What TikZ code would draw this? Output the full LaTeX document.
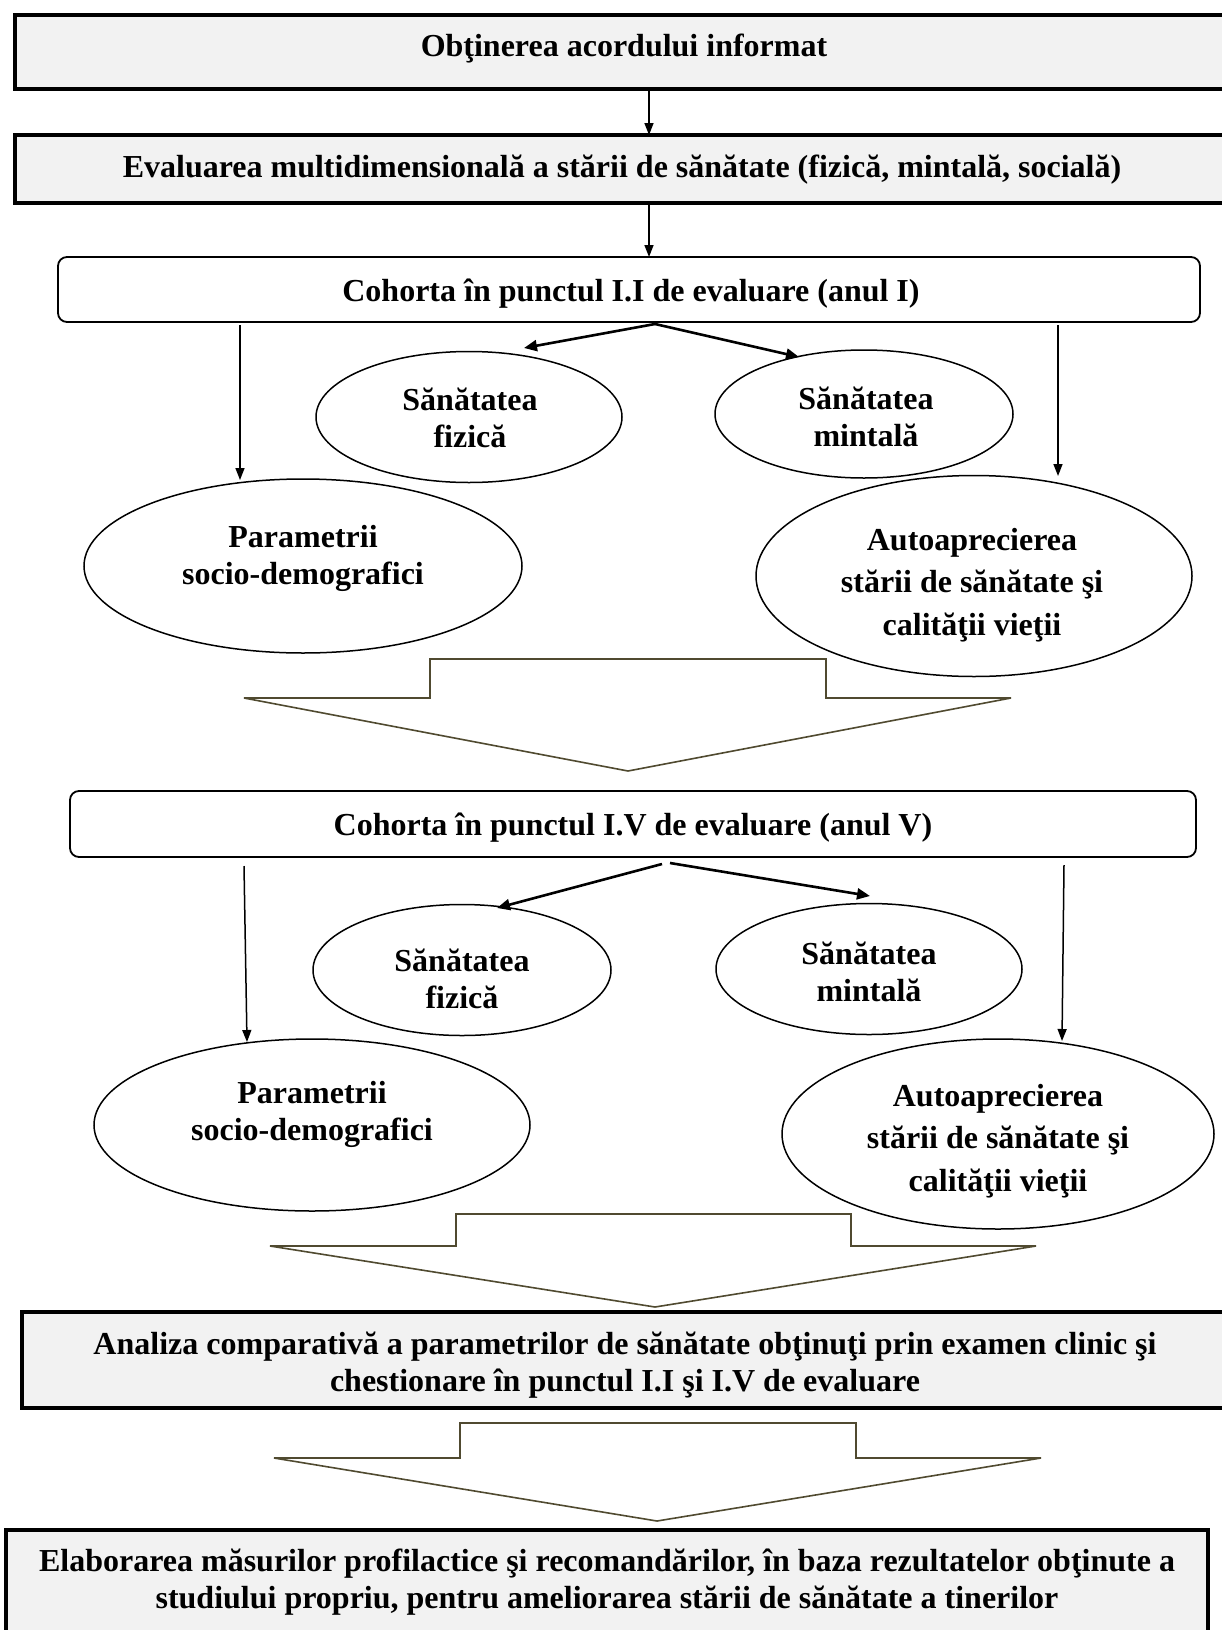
\documentclass[tikz,border=0pt]{standalone}
\usepackage{fontspec}
\setmainfont{Liberation Serif}
\usetikzlibrary{arrows.meta,shapes.geometric}
\definecolor{boxfill}{RGB}{242,242,242}
\definecolor{olive}{RGB}{80,74,48}
\tikzset{
  bigbox/.style={draw=black, line width=4pt, fill=boxfill, inner sep=0pt},
  cohort/.style={draw=black, line width=1.8pt, fill=white, rounded corners=9pt, inner sep=0pt},
  ell/.style={draw=black, line width=1.5pt, ellipse, inner sep=0pt},
  txt/.style={align=center, font=\bfseries\fontsize{32}{37}\selectfont, inner sep=0pt},
  txtb/.style={align=center, font=\bfseries\fontsize{32}{42.5}\selectfont, inner sep=0pt},
  thinarr/.style={line width=1.5pt, -{Triangle[length=12pt,width=9pt]}},
  thickarr/.style={line width=2.6pt, -{Triangle[length=13pt,width=11pt]}},
  blockarr/.style={draw=olive, line width=1.6pt, fill=white, line join=miter},
}
\begin{document}
\begin{tikzpicture}[x=1pt,y=-1pt]
\useasboundingbox (0,0) rectangle (1222,1630);
\clip (0,0) rectangle (1222,1630);
\fill[white] (0,0) rectangle (1222,1630);

% top boxes
\node[bigbox, minimum width=1217pt, minimum height=74pt] (b1) at (623.5,52) {};
\node[txt] (t1) at (624,49) {Obţinerea acordului informat};
\node[bigbox, minimum width=1217pt, minimum height=68pt] (b2) at (623.5,169) {};
\node[txt] (t2) at (622,170) {Evaluarea multidimensională a stării de sănătate (fizică, mintală, socială)};

\coordinate (a1s) at (649,89);
\coordinate (a1e) at (649,135);
\draw[thinarr] (a1s) -- (a1e);
\coordinate (a2s) at (649,203);
\coordinate (a2e) at (649,257);
\draw[thinarr] (a2s) -- (a2e);

% section I
\node[cohort, minimum width=1142pt, minimum height=65pt] (c1) at (629,289.5) {};
\node[txt] (tc1) at (631,294) {Cohorta în punctul I.I de evaluare (anul I)};

\node[ell, minimum width=306pt, minimum height=131pt] (f1) at (469,417) {};
\node[txt] (tf1) at (470,418) {Sănătatea\\fizică};
\node[ell, minimum width=298pt, minimum height=128pt] (m1) at (864,414) {};
\node[txt] (tm1) at (866,417) {Sănătatea\\mintală};
\node[ell, minimum width=438pt, minimum height=174pt] (p1) at (303,566) {};
\node[txt] (tp1) at (303,558) {Parametrii\\socio-demografici};
\node[ell, minimum width=436pt, minimum height=201pt] (s1) at (974,576) {};
\node[txtb] (ts1) at (972,585) {Autoaprecierea\\stării de sănătate şi\\calităţii vieţii};

\coordinate (d1o) at (655,324);
\coordinate (d1l) at (524,348);
\coordinate (d1r) at (799,357);
\draw[thickarr] (d1o) -- (d1l);
\draw[thickarr] (d1o) -- (d1r);
\coordinate (v1ls) at (240,325);
\coordinate (v1le) at (240,480);
\draw[thinarr] (v1ls) -- (v1le);
\coordinate (v1rs) at (1058,325);
\coordinate (v1re) at (1058,476);
\draw[thinarr] (v1rs) -- (v1re);

% block arrow 1
\draw[blockarr] (430,659) -- (826,659) -- (826,698) -- (1011,698) -- (628,771) -- (244,698) -- (430,698) -- cycle;

% section V
\node[cohort, minimum width=1126pt, minimum height=66pt] (c2) at (633,824) {};
\node[txt] (tc2) at (633,828) {Cohorta în punctul I.V de evaluare (anul V)};

\node[ell, minimum width=298pt, minimum height=131pt] (f2) at (462,970) {};
\node[txt] (tf2) at (462,979) {Sănătatea\\fizică};
\node[ell, minimum width=306pt, minimum height=131pt] (m2) at (869,969) {};
\node[txt] (tm2) at (869,972) {Sănătatea\\mintală};
\node[ell, minimum width=436pt, minimum height=172pt] (p2) at (312,1125) {};
\node[txt] (tp2) at (312,1114) {Parametrii\\socio-demografici};
\node[ell, minimum width=432pt, minimum height=190pt] (s2) at (998,1134) {};
\node[txtb] (ts2) at (998,1141) {Autoaprecierea\\stării de sănătate şi\\calităţii vieţii};

\coordinate (d2ol) at (662,864);
\coordinate (d2or) at (670,863);
\coordinate (d2l) at (497,908);
\coordinate (d2r) at (870,896);
\draw[thickarr] (d2ol) -- (d2l);
\draw[thickarr] (d2or) -- (d2r);
\coordinate (v2ls) at (244,866);
\coordinate (v2le) at (247,1042);
\draw[thinarr] (v2ls) -- (v2le);
\coordinate (v2rs) at (1064,865);
\coordinate (v2re) at (1062,1041);
\draw[thinarr] (v2rs) -- (v2re);

% block arrow 2
\draw[blockarr] (456,1214) -- (851,1214) -- (851,1246) -- (1036,1246) -- (655,1307) -- (270,1246) -- (456,1246) -- cycle;

% analiza box
\node[bigbox, minimum width=1206pt, minimum height=96pt] (an) at (625,1360) {};
\node[txt] (tan) at (625,1365) {Analiza comparativă a parametrilor de sănătate obţinuţi prin examen clinic şi\\chestionare în punctul I.I şi I.V de evaluare};

% block arrow 3
\draw[blockarr] (460,1423) -- (856,1423) -- (856,1458) -- (1041,1458) -- (657,1521) -- (274,1458) -- (460,1458) -- cycle;

% elaborarea box
\node[bigbox, minimum width=1202pt, minimum height=120pt] (el) at (607,1590) {};
\node[txt] (tel) at (607,1582) {Elaborarea măsurilor profilactice şi recomandărilor, în baza rezultatelor obţinute a\\studiului propriu, pentru ameliorarea stării de sănătate a tinerilor};
\end{tikzpicture}
\end{document}
